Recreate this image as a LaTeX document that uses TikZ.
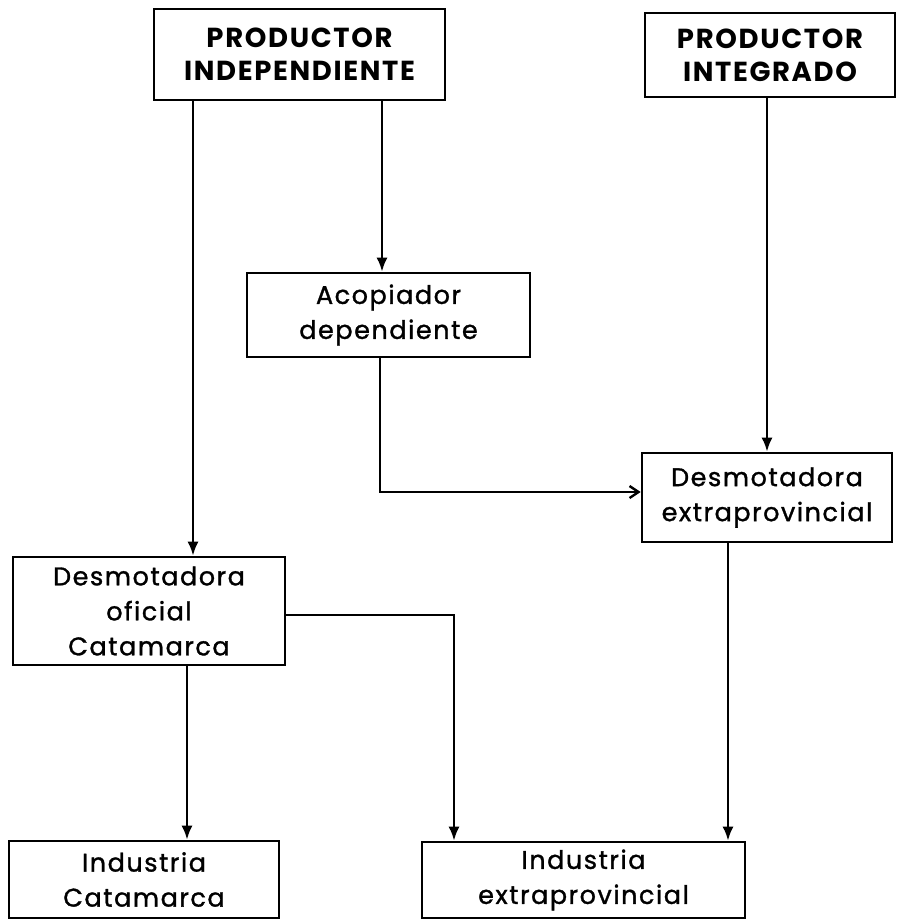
\documentclass[tikz,border=0pt]{standalone}
\usepackage{fontspec}
\setmainfont{Poppins}[LetterSpace=6]
\newfontfamily\medfont{Poppins}[LetterSpace=6, FakeBold=1.2]
\usetikzlibrary{arrows.meta}
\tikzset{
  box/.style={draw, line width=2.6pt, inner sep=0pt, align=center,
    font=\medfont\fontsize{25.5}{35}\selectfont},
  topbox/.style={box, font=\fontsize{27.5}{33}\selectfont\bfseries},
  arr/.style={line width=2.4pt, -{Latex[length=14pt,width=11pt]}},
  arrb/.style={line width=2.4pt, -{Straight Barb[length=9pt,width=12pt,line width=2.4pt]}}
}
\begin{document}
\begin{tikzpicture}[x=1pt,y=-1pt]
\useasboundingbox (0,0) rectangle (900,921);
\node[topbox, minimum width=291pt, minimum height=91pt] (pi) at (299.5,54.5) {PRODUCTOR\\INDEPENDIENTE};
\node[topbox, minimum width=250pt, minimum height=84pt] (pint) at (770,55) {PRODUCTOR\\INTEGRADO};
\node[box, minimum width=283pt, minimum height=84pt] (acop) at (388.5,315) {Acopiador\\dependiente};
\node[box, minimum width=250pt, minimum height=89pt] (dext) at (767,497.5) {Desmotadora\\extraprovincial};
\node[box, minimum width=272pt, minimum height=108pt] (dofic) at (149,611) {Desmotadora\\oficial\\Catamarca};
\node[box, minimum width=270pt, minimum height=77pt] (icat) at (144,879.5) {Industria\\Catamarca};
\node[box, minimum width=323pt, minimum height=76pt] (iext) at (583.5,880) {Industria\\extraprovincial};
\coordinate (xa) at (193,0);
\coordinate (xb) at (382,0);
\coordinate (xc) at (767,0);
\coordinate (xd) at (380,0);
\coordinate (yd) at (0,492);
\coordinate (xe) at (454,0);
\coordinate (ye) at (0,615);
\coordinate (xf) at (187,0);
\coordinate (xg) at (728,0);
\draw[arr] (pi.south -| xa) -- (dofic.north -| xa);
\draw[arr] (pi.south -| xb) -- (acop.north -| xb);
\draw[arr] (pint.south -| xc) -- (dext.north -| xc);
\draw[arrb] (acop.south -| xd) -- (xd |- yd) -- (dext.west |- yd);
\draw[arr] (dofic.east |- ye) -- (xe |- ye) -- (iext.north -| xe);
\draw[arr] (dofic.south -| xf) -- (icat.north -| xf);
\draw[arr] (dext.south -| xg) -- (iext.north -| xg);
\end{tikzpicture}
\end{document}
